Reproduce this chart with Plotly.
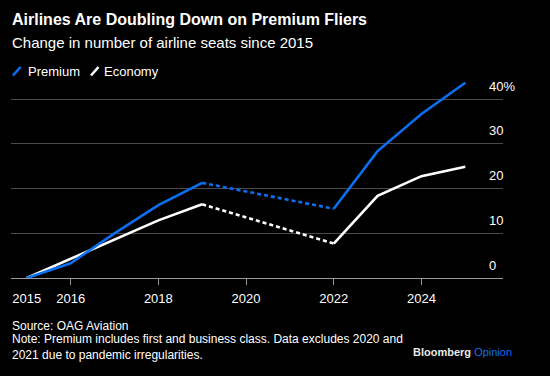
import plotly.graph_objects as go

years = [2015, 2016, 2017, 2018, 2019, 2022, 2023, 2024, 2025]
premium = [0, 3.3, 10.0, 16.3, 21.3, 15.5, 28.4, 36.7, 43.7]
economy = [0, 4.3, 8.6, 12.9, 16.5, 7.7, 18.4, 22.8, 24.9]
x_ticks = [2016, 2018, 2020, 2022, 2024]
first_label = [2015]
y_ticks = [0, 10, 20, 30, 40]
y_tick_text = ["0", "10", "20", "30", "40%"]

BLUE = "#0a6ff0"
WHITE = "#ffffff"
GRID = "#4a4a4a"
BG = "#000000"
FONT = "Liberation Sans, Arial, sans-serif"

L, R, T, B = 11, 47, 78, 98
W, H = 550, 376
PW, PH = W - L - R, H - T - B


def segs(vals, gap_start=2019, gap_end=2022):
    solid = []
    sx = []
    for yr, v in zip(years, vals):
        if yr == gap_end:
            sx.append(None)
            solid.append(None)
        sx.append(yr)
        solid.append(v)
    dx = [yr for yr in years if yr in (gap_start, gap_end)]
    dy = [v for yr, v in zip(years, vals) if yr in (gap_start, gap_end)]
    return sx, solid, dx, dy


fig = go.Figure()
for vals, col in [(economy, WHITE), (premium, BLUE)]:
    sx, sy, dx, dy = segs(vals)
    fig.add_trace(go.Scatter(x=dx, y=dy, mode="lines", showlegend=False,
                             line=dict(color=col, width=2.6, dash="4px,3px"),
                             hoverinfo="skip"))
    fig.add_trace(go.Scatter(x=sx, y=sy, mode="lines", showlegend=False,
                             line=dict(color=col, width=2.6), connectgaps=False,
                             hoverinfo="skip"))

# overlay axis for the 2015 label (no tick mark)
fig.add_trace(go.Scatter(x=first_label, y=[None], xaxis="x2", showlegend=False,
                         hoverinfo="skip"))


def px_to_paper_x(px):
    return (px - L) / PW


def py_to_paper_y(py):
    return (H - B - py) / PH


annotations = []
for v, t in zip(y_ticks, y_tick_text):
    annotations.append(dict(x=px_to_paper_x(487), xref="paper", y=v, yref="y",
                            text=t, showarrow=False, xanchor="left",
                            yanchor="middle", yshift=13,
                            font=dict(family=FONT, size=13, color=WHITE)))

# title / subtitle
annotations.append(dict(x=px_to_paper_x(10), xref="paper", y=py_to_paper_y(20), yref="paper",
                        text="<b>Airlines Are Doubling Down on Premium Fliers</b>",
                        showarrow=False, xanchor="left", yanchor="middle",
                        font=dict(family=FONT, size=16, color=WHITE)))
annotations.append(dict(x=px_to_paper_x(10), xref="paper", y=py_to_paper_y(42), yref="paper",
                        text="Change in number of airline seats since 2015",
                        showarrow=False, xanchor="left", yanchor="middle",
                        font=dict(family=FONT, size=15, color=WHITE)))
# legend
for lx, txt in [(26, "Premium"), (102, "Economy")]:
    annotations.append(dict(x=px_to_paper_x(lx), xref="paper", y=py_to_paper_y(71), yref="paper",
                            text=txt, showarrow=False, xanchor="left", yanchor="middle",
                            font=dict(family=FONT, size=13, color=WHITE)))
# footer
annotations.append(dict(x=px_to_paper_x(10), xref="paper", y=py_to_paper_y(326), yref="paper",
                        text="Source: OAG Aviation", showarrow=False,
                        xanchor="left", yanchor="middle",
                        font=dict(family=FONT, size=12, color=WHITE)))
annotations.append(dict(x=px_to_paper_x(10), xref="paper", y=py_to_paper_y(347), yref="paper",
                        text="Note: Premium includes first and business class. Data excludes 2020 and<br>2021 due to pandemic irregularities.",
                        showarrow=False, xanchor="left", yanchor="middle", align="left",
                        font=dict(family=FONT, size=12, color=WHITE)))
annotations.append(dict(x=px_to_paper_x(514), xref="paper", y=py_to_paper_y(352), yref="paper",
                        text="<b>Bloomberg</b> <span style='color:%s'>Opinion</span>" % BLUE,
                        showarrow=False, xanchor="right", yanchor="middle",
                        font=dict(family=FONT, size=11, color="#e8e8e8")))

shapes = []
for x0, col in [(12, BLUE), (90, WHITE)]:
    shapes.append(dict(type="line", xref="paper", yref="paper",
                       x0=px_to_paper_x(x0 + 1), y0=py_to_paper_y(75.5),
                       x1=px_to_paper_x(x0 + 8.5), y1=py_to_paper_y(67),
                       line=dict(color=col, width=2.6)))

fig.update_layout(
    width=W, height=H,
    paper_bgcolor=BG, plot_bgcolor=BG,
    margin=dict(l=L, r=R, t=T, b=B, pad=0),
    showlegend=False,
    annotations=annotations,
    shapes=shapes,
    xaxis=dict(range=[2014.64, 2025.86], tickvals=x_ticks, ticks="outside",
               ticklen=6, tickcolor="#9a9a9a", tickwidth=1, ticklabelstandoff=2,
               showgrid=False, zeroline=False, showline=False,
               tickfont=dict(family=FONT, size=13, color=WHITE)),
    xaxis2=dict(range=[2014.64, 2025.86], overlaying="x", matches="x",
                tickvals=first_label, ticks="outside", ticklen=6,
                tickcolor="rgba(0,0,0,0)", side="bottom", ticklabelstandoff=2,
                showgrid=False, zeroline=False, showline=False,
                tickfont=dict(family=FONT, size=13, color=WHITE)),
    yaxis=dict(range=[0, 44.77], tickvals=y_ticks, showticklabels=False,
               showgrid=True, gridcolor=GRID, gridwidth=1.3,
               zeroline=True, zerolinecolor="#9a9a9a", zerolinewidth=1.3),
)

fig.write_html("out.html", config={"displayModeBar": False},
               post_script="document.body.style.margin='0';")
